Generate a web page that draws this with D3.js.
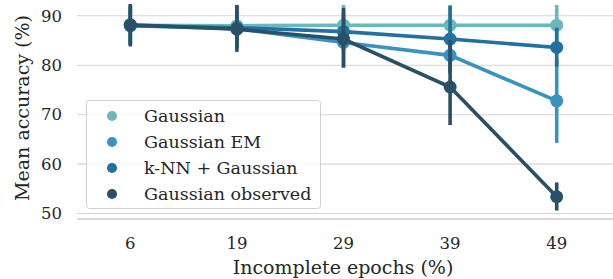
<!DOCTYPE html>
<html>
<head>
<meta charset="utf-8">
<script src="https://cdn.jsdelivr.net/npm/d3@7"></script>
<style>
  body { margin: 0; background: #fff; }
  text { font-family: "DejaVu Serif", serif; fill: #262626; }
</style>
</head>
<body>
<svg id="chart" width="613" height="279"></svg>
<script>
// categories and series
var epochs = ["6", "19", "29", "39", "49"];
var seriesNames = ["Gaussian", "Gaussian EM", "k-NN + Gaussian", "Gaussian observed"];
var colors = ["#6ab8b9", "#3a93be", "#22709f", "#2a5069"];
var means = [
  [88.1, 88.0, 88.1, 88.1, 88.1],
  [88.0, 87.4, 84.6, 82.0, 72.8],
  [88.0, 87.6, 86.8, 85.3, 83.6],
  [88.2, 87.3, 85.3, 75.6, 53.4]
];
var lows = [
  [84.3, 84.2, 84.2, 84.2, 84.2],
  [84.2, 83.5, 79.6, 78.2, 64.3],
  [84.1, 83.4, 83.0, 78.6, 79.7],
  [83.8, 82.7, 79.5, 67.9, 50.6]
];
var highs = [
  [92.2, 92.2, 92.2, 92.2, 92.2],
  [91.8, 91.3, 89.6, 85.8, 81.3],
  [91.9, 91.8, 90.6, 92.0, 87.6],
  [92.4, 92.2, 91.6, 85.1, 56.3]
];
var yTicks = [50, 60, 70, 80, 90];

var svg = d3.select("#chart");
var mLeft = 77, mRight = 610, mTop = 0, mBottom = 219;

var x = d3.scalePoint().domain(epochs).range([mLeft, mRight]).padding(0.5);
var y = d3.scaleLinear().domain([48.9, 93.2]).range([mBottom, mTop]);

// grid
svg.append("g").selectAll("line").data(yTicks).join("line")
  .attr("x1", mLeft).attr("x2", 613)
  .attr("y1", function(d) { return y(d); }).attr("y2", function(d) { return y(d); })
  .attr("stroke", "#d5d5d5").attr("stroke-width", 1.1);
svg.append("line").attr("x1", mLeft).attr("x2", 613).attr("y1", mBottom).attr("y2", mBottom)
  .attr("stroke", "#cccccc").attr("stroke-width", 1.3);

// y tick labels
svg.append("g").selectAll("text").data(yTicks).join("text")
  .attr("x", 62).attr("y", function(d) { return y(d); })
  .attr("dy", "0.35em").attr("text-anchor", "end")
  .style("font-size", "16.5px").text(function(d) { return d; });

// x tick labels
svg.append("g").selectAll("text").data(epochs).join("text")
  .attr("x", function(d) { return x(d); }).attr("y", 243)
  .attr("dy", "0.35em").attr("text-anchor", "middle")
  .style("font-size", "16.5px").text(function(d) { return d; });

// axis labels
svg.append("text").attr("x", 343).attr("y", 274).attr("text-anchor", "middle")
  .style("font-size", "19px").text("Incomplete epochs (%)");
svg.append("text").attr("transform", "translate(29,108) rotate(-90)")
  .attr("text-anchor", "middle").style("font-size", "19px").text("Mean accuracy (%)");

// series: line, error bars, points
var line = d3.line().x(function(d) { return x(d.e); }).y(function(d) { return y(d.v); });
seriesNames.forEach(function(name, i) {
  var pts = epochs.map(function(e, j) {
    return { e: e, v: means[i][j], lo: lows[i][j], hi: highs[i][j] };
  });
  var g = svg.append("g");
  g.append("path").datum(pts).attr("d", line)
    .attr("fill", "none").attr("stroke", colors[i]).attr("stroke-width", 3.6);
  g.selectAll("line.err").data(pts).join("line").attr("class", "err")
    .attr("x1", function(d) { return x(d.e); }).attr("x2", function(d) { return x(d.e); })
    .attr("y1", function(d) { return y(d.lo); }).attr("y2", function(d) { return y(d.hi); })
    .attr("stroke", colors[i]).attr("stroke-width", 3.6);
  g.selectAll("circle").data(pts).join("circle")
    .attr("cx", function(d) { return x(d.e); }).attr("cy", function(d) { return y(d.v); })
    .attr("r", 6.5).attr("fill", colors[i]);
});

// legend
var lg = svg.append("g");
lg.append("rect").attr("x", 86.5).attr("y", 100.5).attr("width", 234).attr("height", 108)
  .attr("rx", 3).attr("fill", "#fff").attr("fill-opacity", 0.8)
  .attr("stroke", "#d0d0d0").attr("stroke-width", 1);
seriesNames.forEach(function(name, i) {
  var yy = 116 + i * 26;
  lg.append("circle").attr("cx", 112).attr("cy", yy).attr("r", 5).attr("fill", colors[i]);
  lg.append("text").attr("x", 144).attr("y", yy).attr("dy", "0.35em")
    .style("font-size", "17.5px").text(name);
});
</script>
</body>
</html>
